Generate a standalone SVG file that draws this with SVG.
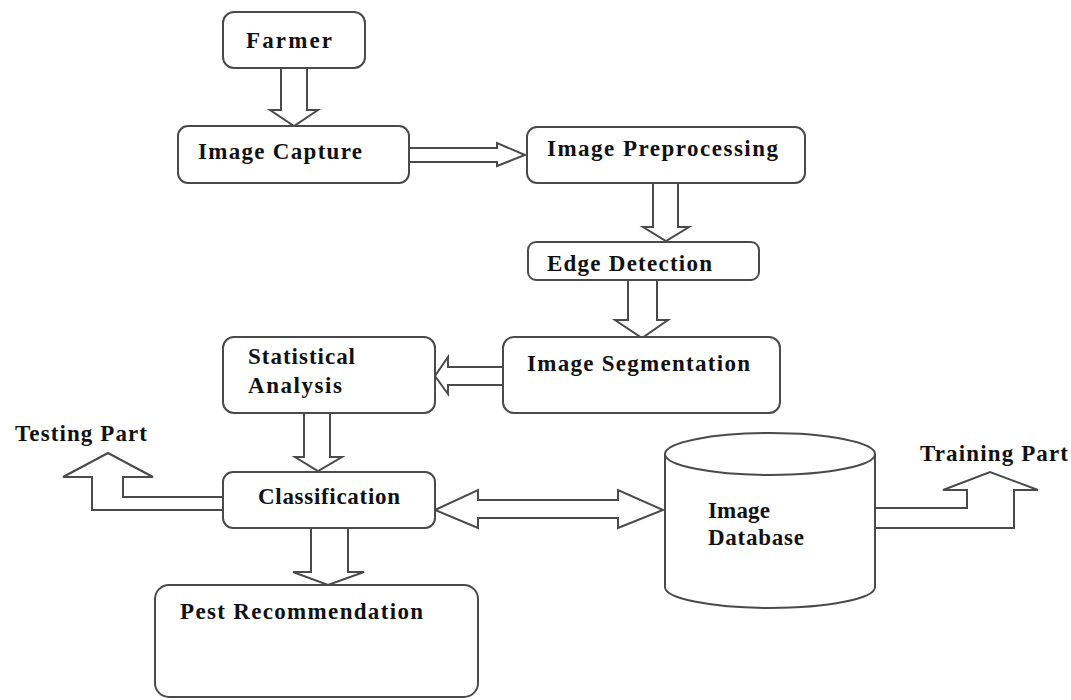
<svg xmlns="http://www.w3.org/2000/svg" width="1071" height="700" viewBox="0 0 1071 700">
<style>
.box{fill:#fff;stroke:#4a4a4a;stroke-width:2}
.arr{fill:#fff;stroke:#4a4a4a;stroke-width:2;stroke-linejoin:miter}
.t{font-family:"Liberation Serif","Times New Roman",serif;font-weight:bold;font-size:23px;fill:#111}
</style>
<rect width="1071" height="700" fill="#fff"/>
<g id="connectors">
<polyline class="arr" points="281,68 281,110 270,110 294,126 318,110 307,110 307,68"/>
<polyline class="arr" points="409,148 497,148 497,143 525,155 497,166 497,162 409,162"/>
<polyline class="arr" points="653,183 653,227 643,227 666,241 689,227 678,227 678,183"/>
<polyline class="arr" points="628,280 628,320 615,320 642,338 668,320 657,320 657,280"/>
<polyline class="arr" points="503,367 448,367 448,357 435,376 448,394 448,385 503,385"/>
<polyline class="arr" points="304,413 304,457 295,457 318,471 342,457 330,457 330,413"/>
<polyline class="arr" points="311,528 311,572 293,572 328,585 364,572 348,572 348,528"/>
<polyline class="arr" points="223,497 123,497 123,477 153,477 108,453 63,477 92,477 92,510 223,510"/>
<polygon class="arr" points="435,510 478,490 478,500 618,500 618,490 663,510 618,528 618,518 478,518 478,528"/>
<polyline class="arr" points="875,508 967,508 967,490 943,490 990,472 1038,490 1014,490 1014,528 875,528"/>
</g>
<g id="farmer"><rect class="box" x="223" y="12" width="142" height="56" rx="11"/><text class="t" x="246" y="48" textLength="86" lengthAdjust="spacing">Farmer</text></g>
<g id="image-capture"><rect class="box" x="178" y="126" width="231" height="57" rx="10"/><text class="t" x="198" y="159" textLength="164" lengthAdjust="spacing">Image Capture</text></g>
<g id="image-preprocessing"><rect class="box" x="527" y="127" width="278" height="56" rx="10"/><text class="t" x="547" y="156" textLength="231" lengthAdjust="spacing">Image Preprocessing</text></g>
<g id="edge-detection"><rect class="box" x="528" y="242" width="231" height="38" rx="8"/><text class="t" x="547" y="271" textLength="165" lengthAdjust="spacing">Edge Detection</text></g>
<g id="image-segmentation"><rect class="box" x="503" y="337" width="277" height="76" rx="11"/><text class="t" x="527" y="371" textLength="223" lengthAdjust="spacing">Image Segmentation</text></g>
<g id="statistical-analysis"><rect class="box" x="223" y="337" width="212" height="76" rx="11"/><text class="t" x="248" y="364" textLength="107" lengthAdjust="spacing">Statistical</text><text class="t" x="248" y="393" textLength="94" lengthAdjust="spacing">Analysis</text></g>
<g id="classification"><rect class="box" x="223" y="472" width="212" height="56" rx="10"/><text class="t" x="258" y="504" textLength="142" lengthAdjust="spacing">Classification</text></g>
<g id="testing-part"><text class="t" x="15" y="441" textLength="132" lengthAdjust="spacing">Testing Part</text></g>
<g id="pest-recommendation"><rect class="box" x="155" y="585" width="323" height="112" rx="14"/><text class="t" x="180" y="619" textLength="243" lengthAdjust="spacing">Pest Recommendation</text></g>
<g id="image-database"><path class="box" d="M665,454 L665,587 A105,21 0 0 0 875,587 L875,454"/><ellipse class="box" cx="770" cy="454" rx="105" ry="21"/><text class="t" x="708" y="518" textLength="62" lengthAdjust="spacing">Image</text><text class="t" x="708" y="545" textLength="96" lengthAdjust="spacing">Database</text></g>
<g id="training-part"><text class="t" x="920" y="461" textLength="148" lengthAdjust="spacing">Training Part</text></g>
</svg>
